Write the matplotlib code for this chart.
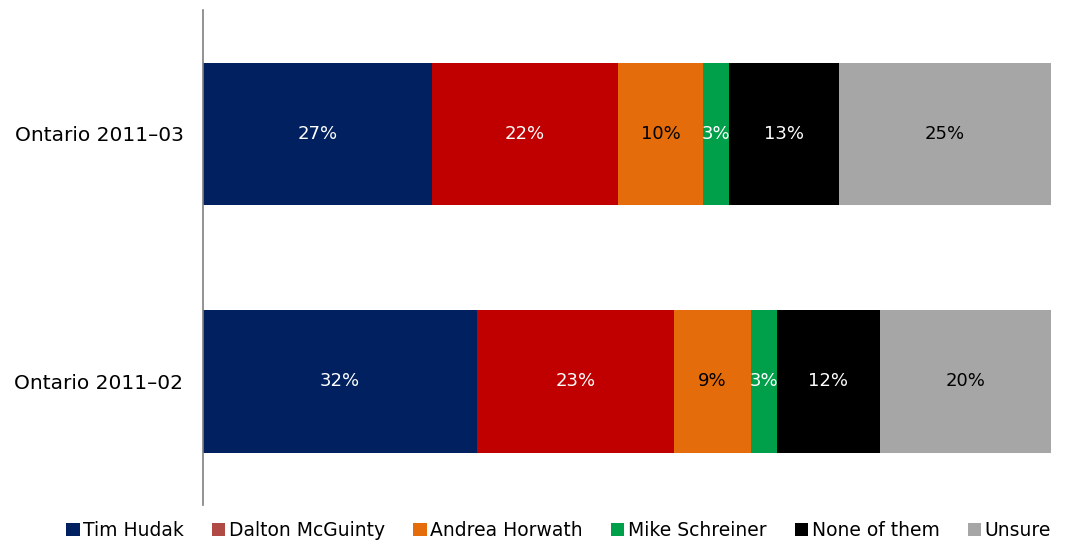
import matplotlib
matplotlib.use("Agg")
import matplotlib.pyplot as plt
import numpy as np

categories = ["Ontario 2011–02", "Ontario 2011–03"]
series = ["Tim Hudak", "Dalton McGuinty", "Andrea Horwath", "Mike Schreiner", "None of them", "Unsure"]
values = {
    "Tim Hudak": [32, 27],
    "Dalton McGuinty": [23, 22],
    "Andrea Horwath": [9, 10],
    "Mike Schreiner": [3, 3],
    "None of them": [12, 13],
    "Unsure": [20, 25],
}
bar_colors = ["#002060", "#c00000", "#e46c0a", "#00a04a", "#000000", "#a6a6a6"]
legend_colors = ["#002060", "#b04a45", "#e46c0a", "#00a04a", "#000000", "#a6a6a6"]
text_colors = ["white", "white", "black", "white", "white", "black"]

plt.rcParams['font.family'] = ['DejaVu Sans']
fig = plt.figure(figsize=(10.68, 5.42), dpi=100)
ax = fig.add_axes([0.19, 0.068, 0.794, 0.9135])

y = np.arange(len(categories))
totals = np.sum([values[s] for s in series], axis=0).astype(float)
left = np.zeros(len(categories))
for s, c, tc in zip(series, bar_colors, text_colors):
    v = np.array(values[s], dtype=float)
    w = v / totals * 100
    ax.barh(y, w, left=left, height=0.575, color=c, edgecolor='none')
    for yi, (l, wi, vi) in enumerate(zip(left, w, v)):
        ax.text(l + wi / 2, yi, f"{int(vi)}%", ha='center', va='center', color=tc, fontsize=13)
    left += w

ax.set_xlim(0, 100)
ax.set_ylim(-0.5, 1.5)
ax.set_yticks(y)
ax.set_yticklabels(categories, fontsize=14.5)
ax.tick_params(axis='y', length=0, pad=14)
ax.set_xticks([])
for sp in ['top', 'right', 'bottom']:
    ax.spines[sp].set_visible(False)
ax.spines['left'].set_color('#808080')
ax.spines['left'].set_linewidth(1.2)

from matplotlib.patches import Patch
handles = [Patch(facecolor=c, edgecolor='none') for c in legend_colors]
fig.legend(handles, series, loc='lower center', bbox_to_anchor=(0.523, -0.028), ncol=6,
           frameon=False, fontsize=13.5, handlelength=0.7, handleheight=0.7,
           handletextpad=0.2, columnspacing=1.5)

fig.savefig("out.png", dpi=100)
